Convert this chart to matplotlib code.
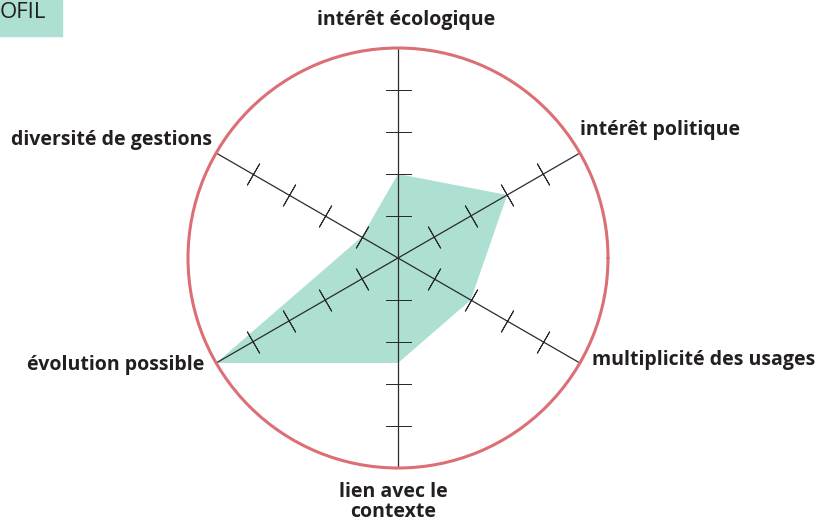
import numpy as np
import matplotlib
matplotlib.use("Agg")
import matplotlib.pyplot as plt
from matplotlib.patches import Rectangle

# Axes of the radar, counter-clockwise from the top
axis_names = ["intérêt écologique", "diversité de gestions", "évolution possible",
              "lien avec le\ncontexte", "multiplicité des usages", "intérêt politique"]
axis_angles = [90, 150, 210, 270, 330, 30]
scores = [2, 1, 5, 2.5, 2, 3]
tick_levels = [1, 2, 3, 4]
r_max = 5

fill_color = "#addfd3"
ring_color = "#dc6f74"
text_color = "#231f20"

W, H = 819, 524
fig = plt.figure(figsize=(W / 100, H / 100), dpi=100)

# Polar axes: centre at (398, 258) px, radius 210 px
cx, cy, rad = 398, 258, 210
ax = fig.add_axes([(cx - rad) / W, (H - cy - rad) / H, 2 * rad / W, 2 * rad / H],
                  projection="polar")
ax.set_ylim(0, r_max)
ax.grid(False)
ax.set_xticks([])
ax.set_yticks([])
ax.spines["polar"].set_color(ring_color)
ax.spines["polar"].set_linewidth(2.2)
ax.spines["polar"].set_capstyle("round")

theta = np.deg2rad(axis_angles)

# Score polygon
ax.fill(np.append(theta, theta[0]), np.append(scores, scores[0]),
        color=fill_color, lw=0, zorder=1)

# Spokes and tick marks
for a in axis_angles:
    t = np.deg2rad(a)
    ax.plot([t, t], [0, r_max], color="#2b2b2b", lw=0.9, zorder=2)
    ax.plot([t] * len(tick_levels), tick_levels, ls="none",
            marker=(2, 2, a), markersize=18, markeredgewidth=0.7,
            color="#2b2b2b", zorder=2, snap=False)

# Axis labels (pixel positions from the reference)
def px(x, y):
    return x / W, 1 - y / H

lab_kw = dict(fontsize=14, fontweight="bold", color=text_color, family="Open Sans")
fig.text(*px(406, 20), axis_names[0], ha="center", va="center", **lab_kw)
fig.text(*px(212, 140), axis_names[1], ha="right", va="center", **lab_kw)
fig.text(*px(204, 365), axis_names[2], ha="right", va="center", **lab_kw)
fig.text(*px(393, 502), axis_names[3], ha="center", va="center",
         linespacing=1.05, **lab_kw)
fig.text(*px(592, 360), axis_names[4], ha="left", va="center", **lab_kw)
fig.text(*px(580, 130), axis_names[5], ha="left", va="center", **lab_kw)

# Cut-off title tab in the top-left corner
fig.patches.append(Rectangle((0, 1 - 36 / H), 62 / W, 36 / H,
                             transform=fig.transFigure, color=fill_color, zorder=0))
fig.text(*px(0, 12), "OFIL", ha="left", va="center", fontsize=16,
         color=text_color, family="Open Sans")

fig.savefig("out.png", dpi=100)
